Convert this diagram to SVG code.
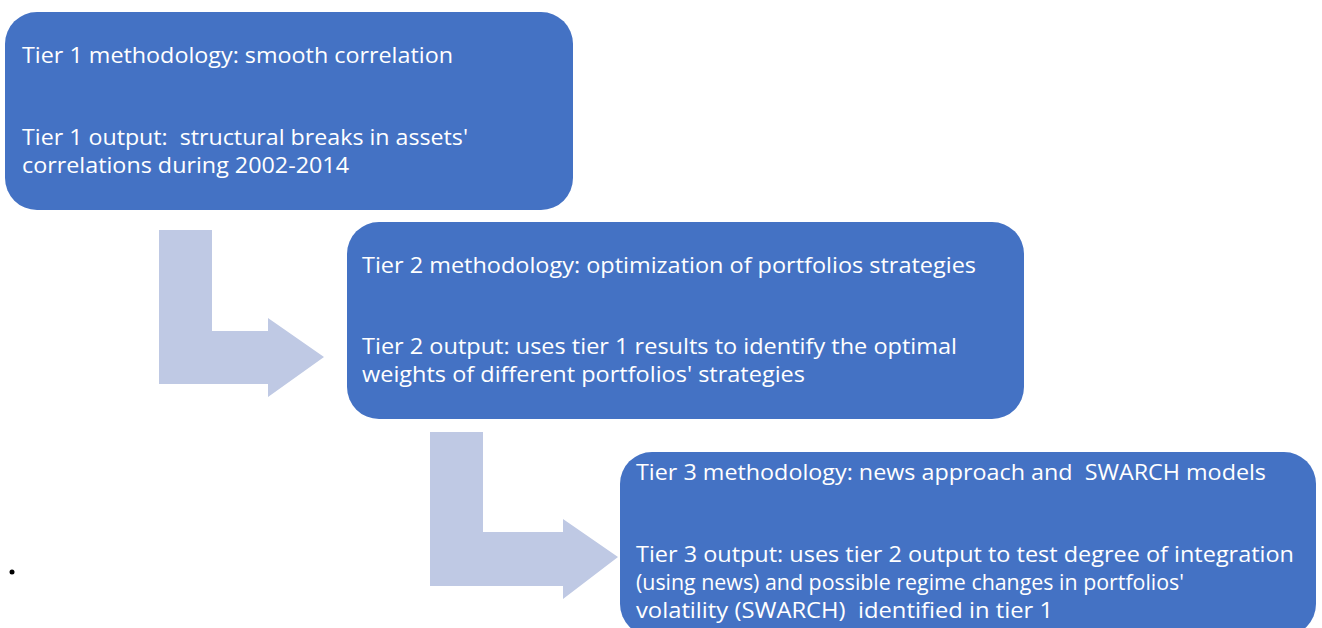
<svg xmlns="http://www.w3.org/2000/svg" width="1322" height="628" viewBox="0 0 1322 628">
<style>
.box{fill:#4472C4;}
.arr{fill:#BFC9E4;}
.t{font-family:"Open Sans","Liberation Sans",sans-serif;font-size:22px;fill:#FFFFFF;}
</style>
<rect width="1322" height="628" fill="#FFFFFF"/>
<g id="connectors">
<path class="arr" d="M159,230 L212,230 L212,331 L268,331 L268,318 L324,357 L268,397 L268,384 L159,384 Z"/>
<path class="arr" d="M430,432 L483,432 L483,532 L563,532 L563,519 L618,557 L563,599 L563,586 L430,586 Z"/>
</g>
<g id="tier1">
<rect class="box" x="5" y="12" width="568" height="198" rx="32" ry="32"/>
<text class="t" x="22" y="63" textLength="431" lengthAdjust="spacingAndGlyphs">Tier 1 methodology: smooth correlation</text>
<text class="t" x="22" y="145" textLength="446" lengthAdjust="spacingAndGlyphs" xml:space="preserve">Tier 1 output:  structural breaks in assets'</text>
<text class="t" x="22" y="173" textLength="327" lengthAdjust="spacingAndGlyphs">correlations during 2002-2014</text>
</g>
<g id="tier2">
<rect class="box" x="347" y="222" width="677" height="197" rx="32" ry="32"/>
<text class="t" x="362" y="273" textLength="614" lengthAdjust="spacingAndGlyphs">Tier 2 methodology: optimization of portfolios strategies</text>
<text class="t" x="362" y="354" textLength="595" lengthAdjust="spacingAndGlyphs">Tier 2 output: uses tier 1 results to identify the optimal</text>
<text class="t" x="362" y="382" textLength="443" lengthAdjust="spacingAndGlyphs">weights of different portfolios' strategies</text>
</g>
<g id="tier3">
<rect class="box" x="620" y="452" width="696" height="184" rx="32" ry="32"/>
<text class="t" x="636" y="480" textLength="630" lengthAdjust="spacingAndGlyphs" xml:space="preserve">Tier 3 methodology: news approach and  SWARCH models</text>
<text class="t" x="636" y="562" textLength="658" lengthAdjust="spacingAndGlyphs">Tier 3 output: uses tier 2 output to test degree of integration</text>
<text class="t" x="636" y="590" textLength="548" lengthAdjust="spacingAndGlyphs">(using news) and possible regime changes in portfolios'</text>
<text class="t" x="636" y="618" textLength="417" lengthAdjust="spacingAndGlyphs" xml:space="preserve">volatility (SWARCH)  identified in tier 1</text>
</g>
<circle cx="12" cy="572" r="2.5" fill="#000000"/>
</svg>
